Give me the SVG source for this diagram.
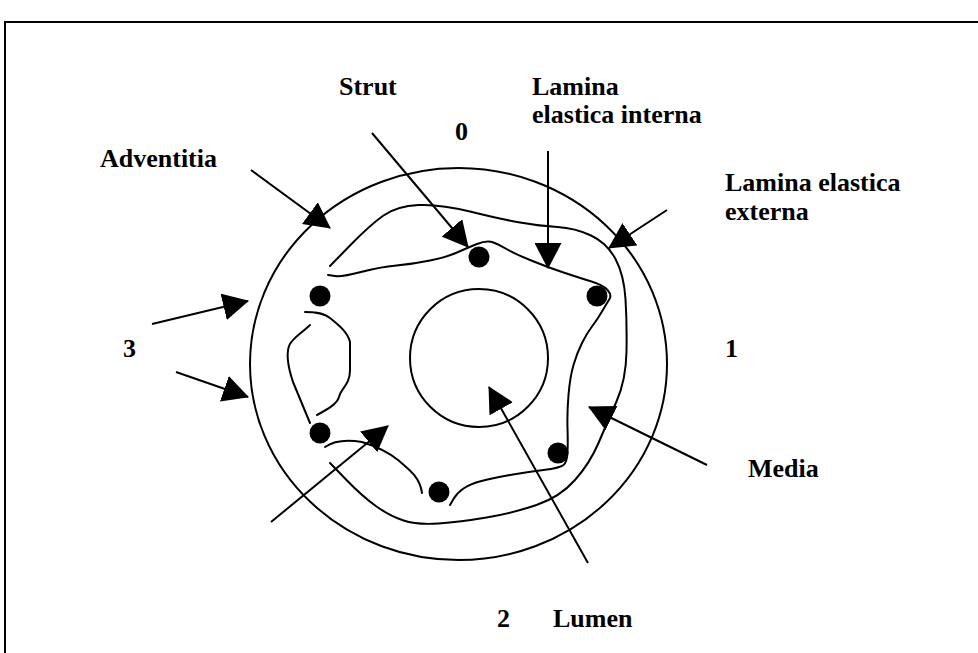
<svg xmlns="http://www.w3.org/2000/svg" width="978" height="653" viewBox="0 0 978 653">
  <style>
    .lbl { font-family: "Liberation Serif", "Times New Roman", serif; font-weight: bold; font-size: 26px; fill: #000; }
    .ring { fill: none; stroke: #000; stroke-width: 2; }
    .wave { fill: none; stroke: #000; stroke-width: 2; stroke-linecap: round; stroke-linejoin: round; }
    .strut { fill: #000; }
    .ptr { fill: none; stroke: #000; stroke-width: 2; marker-end: url(#head); }
  </style>
  <defs>
    <marker id="head" viewBox="0 0 26 27" markerWidth="26" markerHeight="27" refX="25" refY="13.5" markerUnits="userSpaceOnUse" orient="auto">
      <path d="M0,0 L26,13.5 L0,27 z" fill="#000"/>
    </marker>
  </defs>

  <rect width="978" height="653" fill="#fff"/>
  <!-- page frame -->
  <rect x="5" y="22" width="1000" height="700" fill="none" stroke="#000" stroke-width="2"/>

  <!-- vessel cross-section -->
  <g id="adventitia-ring">
    <ellipse class="ring" cx="458.5" cy="364" rx="208.5" ry="196"/>
  </g>
  <g id="lamina-externa">
    <path class="wave" d="M330,266 L350,245.5 Q370,225 383.5,215.5 Q397,206 418.5,205 Q440,204 470,211.5 Q500,219 520,222.5 Q540,226 557.5,227 Q575,228 591,235.5 Q607,243 615.5,259 Q624,275 625.5,299 Q627,323 626.5,351.5 Q626,380 616.5,401.5 Q607,423 598.5,443 Q590,463 575,480 Q560,497 536.5,505 Q513,513 486.5,517.5 Q460,522 438.5,523.5 Q417,525 403.5,520.5 Q390,516 376.5,506.5 Q363,497 346.5,480 L330,463"/>
  </g>
  <g id="lamina-interna">
    <path class="wave" d="M328,275 L335,276 Q342,277 361,272 Q380,267 396.5,265.5 Q413,264 430,260.5 Q447,257 457,252.5 Q467,248 477,244 Q487,240 493.5,242.5 Q500,245 506.5,249 Q513,253 530,260 Q547,267 563.5,272.5 Q580,278 591.5,281.5 Q603,285 607.5,290 Q612,295 609.5,299 Q607,303 602,311.5 Q597,320 592,326.5 Q587,333 582,343 Q577,353 573.5,365 Q570,377 568.5,395 Q567,413 567.5,428 Q568,443 567.5,452.5 Q567,462 563.5,465 Q560,468 543.5,470 Q527,472 510,475 Q493,478 481.5,481 Q470,484 463.5,488.5 Q457,493 453.5,499 L450,505"/>
    <path class="wave" d="M422,493 C420,478 410,470 398,460 C388,452 375,446 362,442 C350,440 335,440 325,447"/>
    <path class="wave" d="M317,415 C328,409 337,404 339,397 C341,388 350,385 350,370 L350,342 C348,333 340,326 330,318 C322,312 312,312 305,312"/>
    <path class="wave" d="M310,325 C302,333 292,338 289,346 C286,355 289,370 293,382 L310,423"/>
  </g>
  <g id="lumen">
    <circle class="ring" cx="479" cy="358" r="69"/>
  </g>
  <g id="struts">
    <circle class="strut" cx="479" cy="257" r="10.5"/>
    <circle class="strut" cx="320" cy="296" r="10.5"/>
    <circle class="strut" cx="597" cy="296" r="10.5"/>
    <circle class="strut" cx="320" cy="433" r="10.5"/>
    <circle class="strut" cx="439" cy="492" r="10.5"/>
    <circle class="strut" cx="558" cy="453" r="10.5"/>
  </g>

  <!-- pointer arrows -->
  <g id="connectors">
    <line class="ptr" x1="251" y1="170" x2="330" y2="228"/>
    <line class="ptr" x1="372" y1="133" x2="468" y2="247"/>
    <line class="ptr" x1="548" y1="151" x2="548" y2="268"/>
    <line class="ptr" x1="667" y1="210" x2="609" y2="248"/>
    <line class="ptr" x1="152" y1="324" x2="248" y2="301"/>
    <line class="ptr" x1="176" y1="372" x2="248" y2="397"/>
    <line class="ptr" x1="707" y1="465" x2="589" y2="407"/>
    <line class="ptr" x1="271" y1="522" x2="388" y2="426"/>
    <line class="ptr" x1="588" y1="563" x2="489" y2="387"/>
  </g>

  <!-- labels -->
  <g id="label-strut"><text class="lbl" x="339" y="95">Strut</text></g>
  <g id="label-interna"><text class="lbl" x="532" y="95">Lamina</text><text class="lbl" x="532" y="123">elastica interna</text></g>
  <g id="label-0"><text class="lbl" x="455" y="140">0</text></g>
  <g id="label-adventitia"><text class="lbl" x="100" y="167">Adventitia</text></g>
  <g id="label-externa"><text class="lbl" x="725" y="191">Lamina elastica</text><text class="lbl" x="725" y="220">externa</text></g>
  <g id="label-3"><text class="lbl" x="123" y="357">3</text></g>
  <g id="label-1"><text class="lbl" x="725" y="357">1</text></g>
  <g id="label-media"><text class="lbl" x="748" y="477">Media</text></g>
  <g id="label-2"><text class="lbl" x="497" y="627">2</text></g>
  <g id="label-lumen"><text class="lbl" x="553" y="627">Lumen</text></g>
</svg>
